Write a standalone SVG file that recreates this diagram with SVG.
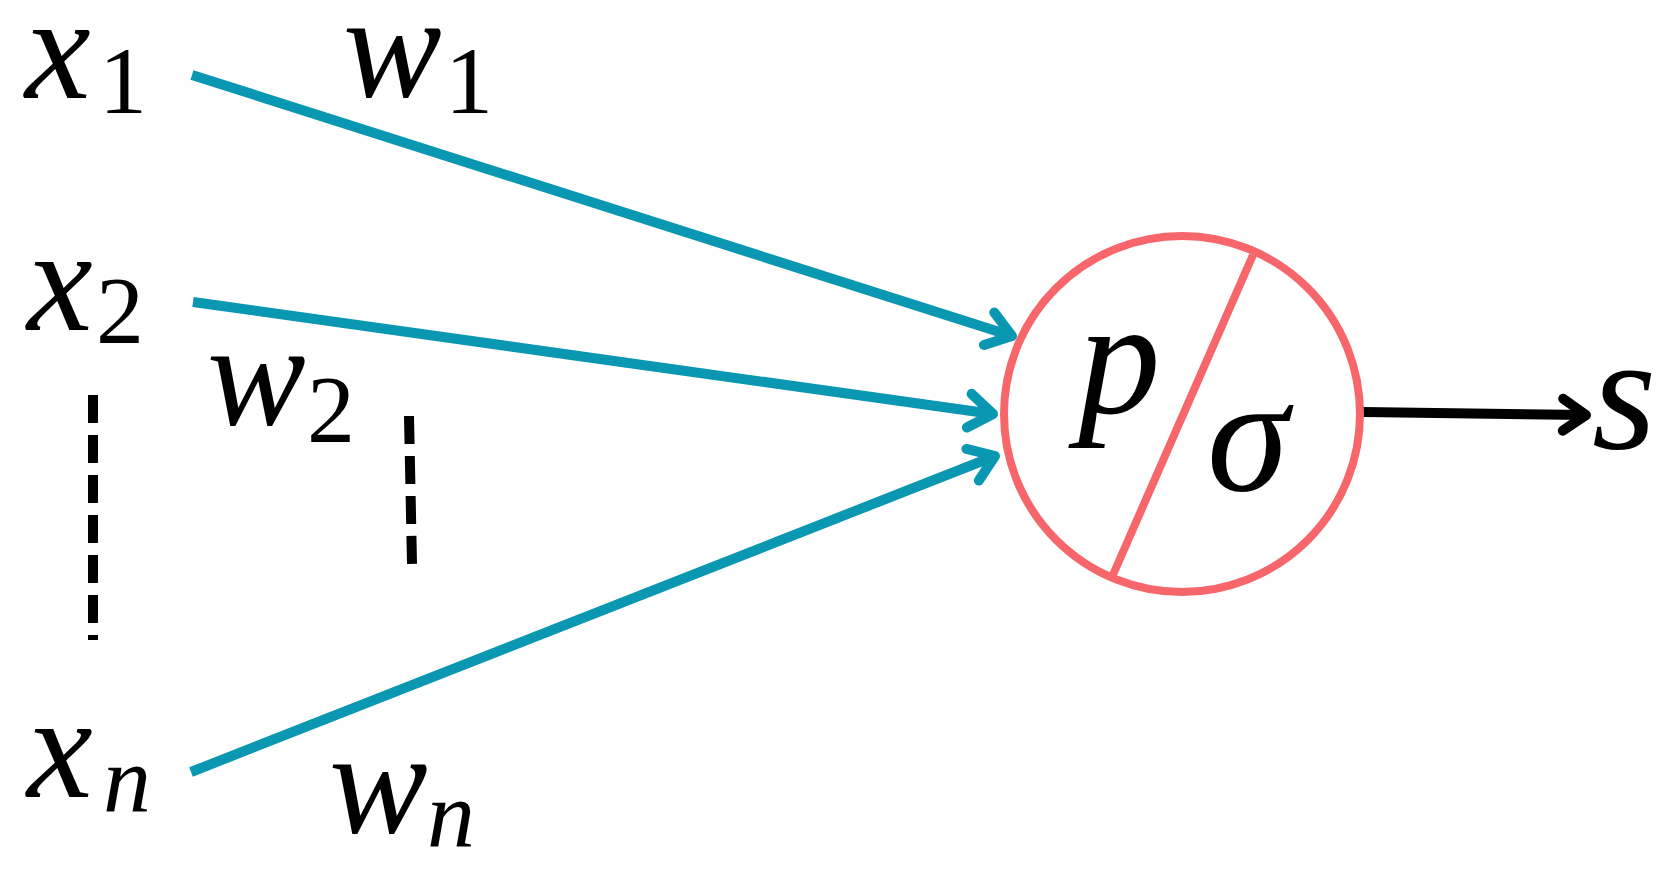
<svg xmlns="http://www.w3.org/2000/svg" width="1672" height="881" viewBox="0 0 1672 881">
<style>
.v{font-family:'Liberation Serif','Times New Roman',Times,serif;font-style:italic;fill:#000}
.big{font-size:148px}
.sub{font-size:96px}
.up{font-style:normal}
.teal{stroke:#0a97b1;stroke-width:10;fill:none;marker-end:url(#ah-teal)}
.dash{stroke:#000;stroke-width:10;stroke-dasharray:28 12;fill:none}
</style>
<defs>
<marker id="ah-teal" markerUnits="userSpaceOnUse" markerWidth="80" markerHeight="80" viewBox="-40 -40 80 80" refX="0" refY="0" orient="auto" overflow="visible">
<path d="M-24,-17 L0,0 L-24,17" fill="none" stroke="#0a97b1" stroke-width="10" stroke-linecap="round" stroke-linejoin="round"/>
</marker>
<marker id="ah-black" markerUnits="userSpaceOnUse" markerWidth="80" markerHeight="80" viewBox="-40 -40 80 80" refX="0" refY="0" orient="auto" overflow="visible">
<path d="M-23,-16 L0,0 L-23,16" fill="none" stroke="#000" stroke-width="10" stroke-linecap="round" stroke-linejoin="round"/>
</marker>
</defs>
<rect width="1672" height="881" fill="#fff"/>
<g id="connectors">
<line class="teal" x1="192" y1="75" x2="1012" y2="336"/>
<line class="teal" x1="193" y1="302" x2="993" y2="414"/>
<line class="teal" x1="191" y1="772" x2="995" y2="456"/>
<line x1="1363" y1="412" x2="1586" y2="415" stroke="#000" stroke-width="10" marker-end="url(#ah-black)"/>
<line class="dash" x1="93" y1="395" x2="93" y2="640"/>
<line class="dash" x1="409" y1="416" x2="412" y2="564"/>
</g>
<g id="x1"><text class="v big" x="25" y="98">x</text><text class="v sub up" x="99" y="113">1</text></g>
<g id="x2"><text class="v big" x="27" y="330">x</text><text class="v sub up" x="96" y="343">2</text></g>
<g id="xn"><text class="v big" x="27" y="797">x</text><text class="v sub" x="103" y="812">n</text></g>
<g id="w1"><text class="v big" x="343" y="97">w</text><text class="v sub up" x="445" y="113">1</text></g>
<g id="w2"><text class="v big" x="207" y="425">w</text><text class="v sub up" x="307" y="442">2</text></g>
<g id="wn"><text class="v big" x="329" y="833">w</text><text class="v sub" x="427" y="847">n</text></g>
<g id="neuron">
<circle cx="1182" cy="414" r="178" fill="none" stroke="#f7666a" stroke-width="8"/>
<line x1="1253" y1="255" x2="1112" y2="577" stroke="#f7666a" stroke-width="8"/>
<text class="v" font-size="165" x="1078" y="413">p</text>
<text class="v" font-size="165" x="1207" y="490">σ</text>
</g>
<g id="s"><text class="v" font-size="165" x="1592" y="448">s</text></g>
</svg>
